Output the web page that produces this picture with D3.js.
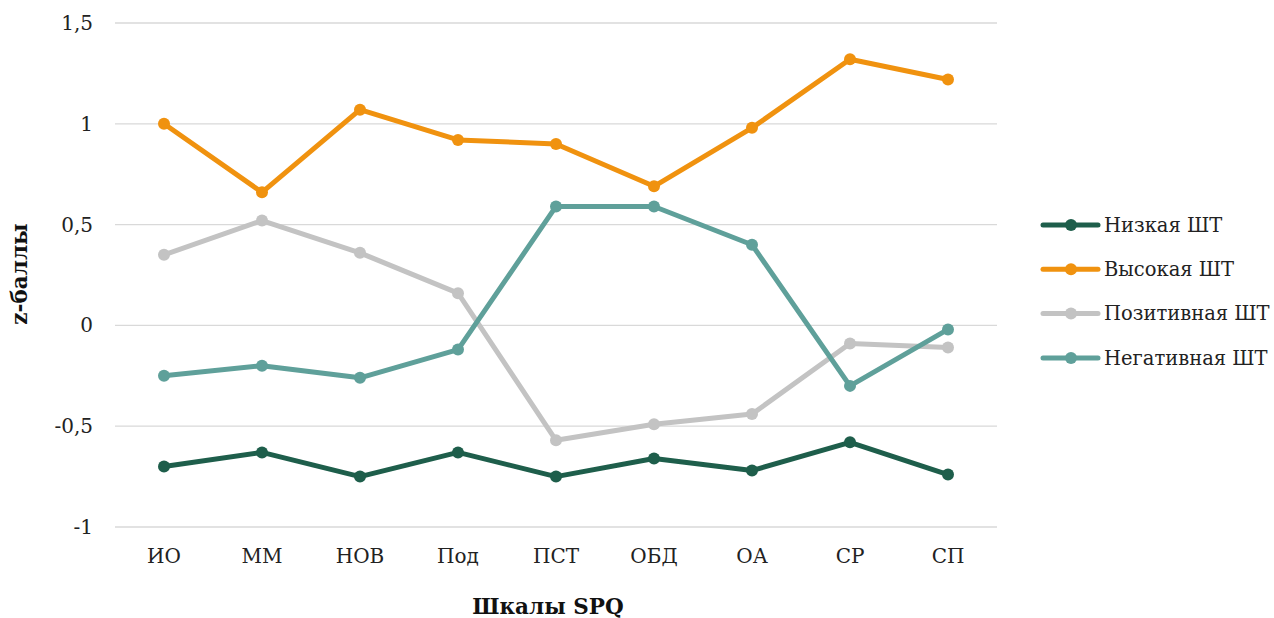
<!DOCTYPE html>
<html>
<head>
<meta charset="utf-8">
<script src="https://cdn.jsdelivr.net/npm/d3@7"></script>
<style>
  html, body { margin: 0; padding: 0; background: #fff; }
  svg { display: block; font-family: "DejaVu Serif", "Liberation Serif", serif; }
</style>
</head>
<body>
<svg id="chart" width="1274" height="618"></svg>
<script>
// SPQ scales on the x axis
const categories = ["ИО", "ММ", "НОВ", "Под", "ПСТ", "ОБД", "ОА", "СР", "СП"];

// z-scores for each group
const lowValues      = [-0.70, -0.63, -0.75, -0.63, -0.75, -0.66, -0.72, -0.58, -0.74];
const highValues     = [ 1.00,  0.66,  1.07,  0.92,  0.90,  0.69,  0.98,  1.32,  1.22];
const positiveValues = [ 0.35,  0.52,  0.36,  0.16, -0.57, -0.49, -0.44, -0.09, -0.11];
const negativeValues = [-0.25, -0.20, -0.26, -0.12,  0.59,  0.59,  0.40, -0.30, -0.02];

const seriesNames  = ["Низкая ШТ", "Высокая ШТ", "Позитивная ШТ", "Негативная ШТ"];
const seriesColors = ["#1e5e4b", "#f0920f", "#c3c3c3", "#5fa09a"];

const yTicks = [-1, -0.5, 0, 0.5, 1, 1.5];

const series = [lowValues, highValues, positiveValues, negativeValues].map((vals, i) => ({
  name: seriesNames[i],
  color: seriesColors[i],
  values: vals
}));

const svg = d3.select("#chart");
const plot = { left: 115, right: 997, top: 23, bottom: 527 };

const x = d3.scaleBand().domain(categories).range([plot.left, plot.right]);
const y = d3.scaleLinear().domain([-1, 1.5]).range([plot.bottom, plot.top]);

const fmt = v => String(v).replace(".", ",");

// horizontal gridlines
svg.append("g")
  .selectAll("line")
  .data(yTicks)
  .join("line")
  .attr("x1", plot.left).attr("x2", plot.right)
  .attr("y1", d => y(d)).attr("y2", d => y(d))
  .attr("stroke", "#d9d9d9").attr("stroke-width", 1.3);

// y axis labels
const yAxis = svg.append("g")
  .attr("transform", `translate(${plot.left - 22},0)`)
  .call(d3.axisLeft(y).tickValues(yTicks).tickFormat(fmt).tickSize(0).tickPadding(0));
yAxis.select(".domain").remove();
yAxis.selectAll("text")
  .attr("font-family", "DejaVu Serif, serif")
  .attr("font-size", 20).attr("fill", "#222");

// x axis labels
const xAxis = svg.append("g")
  .attr("transform", `translate(0,${plot.bottom + 22})`)
  .call(d3.axisBottom(x).tickSize(0).tickPadding(0));
xAxis.select(".domain").remove();
xAxis.selectAll("text")
  .attr("font-family", "DejaVu Serif, serif")
  .attr("font-size", 20).attr("fill", "#222");

// lines and markers
const line = d3.line()
  .x((d, i) => x(categories[i]) + x.bandwidth() / 2)
  .y(d => y(d));

const groups = svg.append("g").selectAll("g")
  .data(series)
  .join("g");

groups.append("path")
  .attr("d", d => line(d.values))
  .attr("fill", "none")
  .attr("stroke", d => d.color)
  .attr("stroke-width", 5)
  .attr("stroke-linejoin", "round")
  .attr("stroke-linecap", "round");

groups.selectAll("circle")
  .data(d => d.values.map((v, i) => ({ v, i, color: d.color })))
  .join("circle")
  .attr("cx", d => x(categories[d.i]) + x.bandwidth() / 2)
  .attr("cy", d => y(d.v))
  .attr("r", 6)
  .attr("fill", d => d.color);

// axis titles
svg.append("text")
  .attr("transform", "translate(27,274) rotate(-90)")
  .attr("text-anchor", "middle")
  .attr("font-family", "DejaVu Serif, serif")
  .attr("font-weight", "bold")
  .attr("font-size", 21.5)
  .attr("fill", "#111")
  .text("z-баллы");

svg.append("text")
  .attr("x", 548).attr("y", 614)
  .attr("text-anchor", "middle")
  .attr("font-family", "DejaVu Serif, serif")
  .attr("font-weight", "bold")
  .attr("font-size", 21.5)
  .attr("fill", "#111")
  .text("Шкалы SPQ");

// legend
const legend = svg.append("g").attr("transform", "translate(1044,225)");
const item = legend.selectAll("g")
  .data(series)
  .join("g")
  .attr("transform", (d, i) => `translate(0,${i * 44.3})`);
item.append("line")
  .attr("x1", -1).attr("x2", 54)
  .attr("stroke", d => d.color).attr("stroke-width", 5)
  .attr("stroke-linecap", "round");
item.append("circle")
  .attr("cx", 27).attr("r", 6)
  .attr("fill", d => d.color);
item.append("text")
  .attr("x", 60).attr("dy", "0.35em")
  .attr("font-family", "DejaVu Serif, serif")
  .attr("font-size", 19.5)
  .attr("fill", "#222")
  .text(d => d.name);
</script>
</body>
</html>
